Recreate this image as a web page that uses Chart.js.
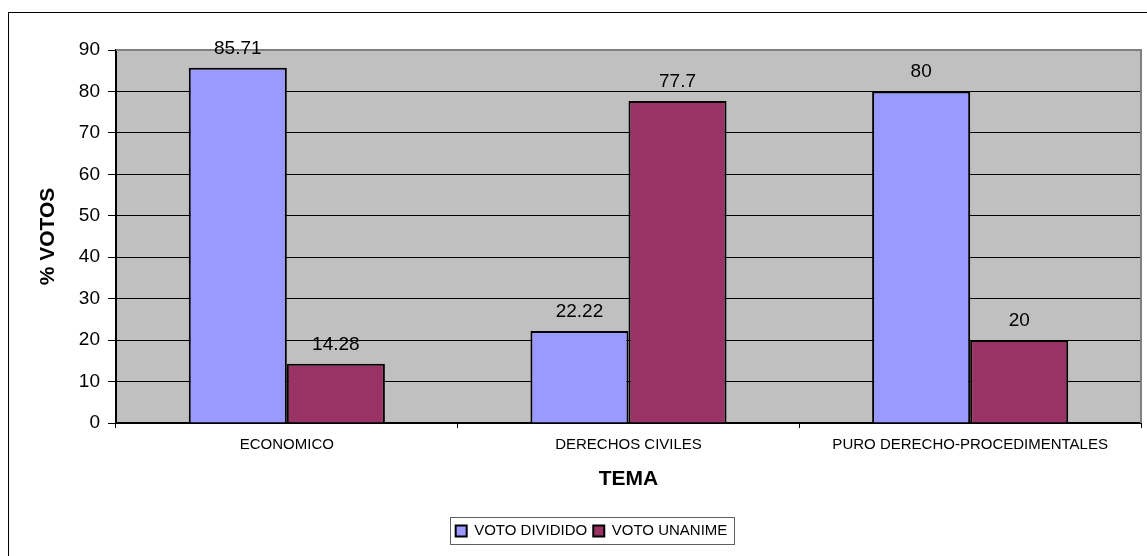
<!DOCTYPE html>
<html><head><meta charset="utf-8">
<script src="https://cdn.jsdelivr.net/npm/chart.js@4/dist/chart.umd.min.js"></script>
<style>html,body{margin:0;padding:0;background:#fff}canvas{display:block}</style>
</head><body>
<canvas id="c" width="1147" height="556"></canvas>
<script>
const categories = ['ECONOMICO', 'DERECHOS CIVILES', 'PURO DERECHO-PROCEDIMENTALES'];
const seriesNames = ['VOTO DIVIDIDO', 'VOTO UNANIME'];
const votoDividido = [85.71, 22.22, 80];
const votoUnanime = [14.28, 77.7, 20];
const yMin = 0, yMax = 90, yStep = 10;
const xTitle = 'TEMA';
const yTitle = '% VOTOS';

const FONT = "'Liberation Sans', Arial, sans-serif";
Chart.defaults.font.family = FONT;
Chart.defaults.color = '#000';

const framePlugin = {
  id: 'frame',
  afterLayout(chart) {
    const lg = chart.legend;
    if (lg) { lg.left += 21; lg.right += 21; }
  },
  beforeDraw(chart) {
    const ctx = chart.ctx, a = chart.chartArea;
    ctx.save();
    ctx.fillStyle = '#fff';
    ctx.fillRect(0, 0, chart.width, chart.height);
    ctx.strokeStyle = '#000';
    ctx.lineWidth = 1;
    ctx.strokeRect(8.5, 12.5, chart.width + 50, chart.height + 50);
    ctx.fillStyle = '#c0c0c0';
    ctx.fillRect(a.left, a.top, a.right - a.left, a.bottom - a.top);
    ctx.restore();
  },
  beforeDatasetsDraw(chart) {
    const ctx = chart.ctx, a = chart.chartArea;
    ctx.save();
    ctx.strokeStyle = '#808080';
    ctx.lineWidth = 2;
    ctx.beginPath();
    ctx.moveTo(a.left, a.top);
    ctx.lineTo(a.right, a.top);
    ctx.lineTo(a.right, a.bottom);
    ctx.stroke();
    ctx.restore();
  },
  afterDatasetsDraw(chart) {
    const ctx = chart.ctx;
    ctx.save();
    ctx.font = '19px ' + FONT;
    ctx.fillStyle = '#000';
    ctx.textAlign = 'center';
    ctx.textBaseline = 'alphabetic';
    chart.data.datasets.forEach((ds, di) => {
      chart.getDatasetMeta(di).data.forEach((bar, i) => {
        ctx.fillText(String(ds.data[i]), bar.x, bar.y - 14);
      });
    });
    ctx.restore();
  },
  afterDraw(chart) {
    const lg = chart.legend;
    if (!lg || !lg.legendHitBoxes || !lg.legendHitBoxes.length) return;
    const hb = lg.legendHitBoxes;
    const last = hb[hb.length - 1];
    const l = hb[0].left - 6, r = last.left + last.width + 6;
    const cy = hb[0].top + hb[0].height / 2;
    const ctx = chart.ctx;
    ctx.save();
    ctx.strokeStyle = '#606060';
    ctx.lineWidth = 1;
    ctx.strokeRect(Math.round(l) + 0.5, Math.round(cy - 14) + 0.5, Math.round(r - l), 27);
    ctx.restore();
  }
};

new Chart(document.getElementById('c'), {
  type: 'bar',
  data: {
    labels: categories,
    datasets: [
      { label: seriesNames[0], data: votoDividido, backgroundColor: '#9999ff', borderColor: '#000', borderWidth: 2 },
      { label: seriesNames[1], data: votoUnanime, backgroundColor: '#993366', borderColor: '#000', borderWidth: 2 }
    ]
  },
  options: {
    responsive: false,
    animation: false,
    layout: { padding: { top: 50, right: 6, left: 0, bottom: 7.5 } },
    datasets: { bar: { categoryPercentage: 0.574, barPercentage: 1 } },
    plugins: {
      tooltip: { enabled: false },
      legend: {
        position: 'bottom',
        labels: { boxWidth: 11, boxHeight: 11, padding: 6, font: { size: 15 }, color: '#000' }
      }
    },
    scales: {
      x: {
        afterFit(s) { s.height = 94.5; },
        grid: { offset: true, drawOnChartArea: false, drawTicks: true, tickLength: 5, color: '#000' },
        border: { color: '#000', width: 2 },
        ticks: { font: { size: 15 }, padding: 8, maxRotation: 0, autoSkip: false, color: '#000' },
        title: { display: true, text: xTitle, font: { size: 21, weight: 'bold' }, padding: { top: 0, bottom: 25.5 }, color: '#000' }
      },
      y: {
        min: yMin, max: yMax,
        afterFit(s) { s.width = 116; },
        grid: { color: '#000', lineWidth: 1, tickLength: 8 },
        border: { color: '#000', width: 2 },
        ticks: { stepSize: yStep, font: { size: 19 }, padding: 8, color: '#000' },
        title: { display: true, text: yTitle, font: { size: 21, weight: 'bold' }, padding: { top: 36, bottom: 0 }, color: '#000' }
      }
    }
  },
  plugins: [framePlugin]
});
</script>
</body></html>
